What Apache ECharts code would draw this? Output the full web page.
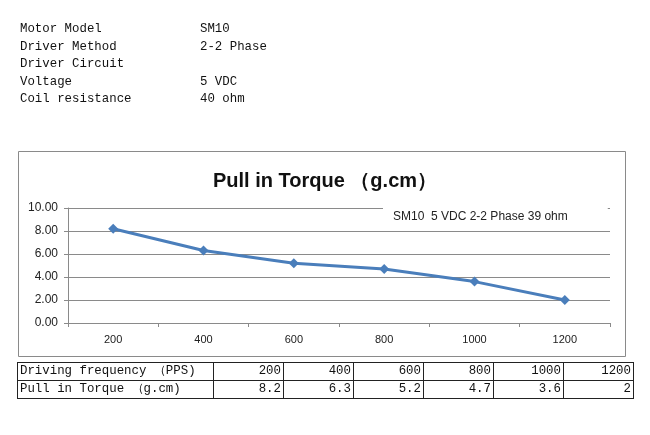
<!DOCTYPE html>
<html><head><meta charset="utf-8">
<script src="https://cdn.jsdelivr.net/npm/echarts@6/dist/echarts.min.js"></script>
<style>
html,body{margin:0;padding:0;background:#fff;width:650px;height:435px;overflow:hidden;}
#chart{position:absolute;left:0;top:0;width:650px;height:435px;}
#info{position:absolute;left:20px;top:21px;font-family:"Liberation Mono","DejaVu Sans Mono",monospace;font-size:12.4px;color:#111;line-height:17.5px;}
#info div{white-space:pre;height:17.5px;}
#info span{display:inline-block;width:180px;}
table{position:absolute;left:17px;top:362px;border-collapse:collapse;font-family:"Liberation Mono","DejaVu Sans Mono",monospace;font-size:12.4px;color:#111;table-layout:fixed;}
td{border:1px solid #222;padding:0 2px;height:17px;line-height:17px;text-align:right;width:65px;white-space:pre;overflow:hidden;}
td.h{text-align:left;width:191px;}
</style></head>
<body>
<div id="chart"></div>
<div id="info"></div>
<table id="tbl"></table>
<script>
const infoLabels = ["Motor Model","Driver Method","Driver Circuit","Voltage","Coil resistance"];
const infoValues = ["SM10","2-2 Phase","","5 VDC","40 ohm"];
const categories = ["200","400","600","800","1000","1200"];
const torque = [8.2, 6.3, 5.2, 4.7, 3.6, 2];
const tableValues = ["8.2","6.3","5.2","4.7","3.6","2"];
const seriesName = "SM10  5 VDC 2-2 Phase 39 ohm";
const titleText = "Pull in Torque \uFF08g.cm\uFF09";
const rowHeaders = ["Driving frequency \uFF08PPS)","Pull in Torque \uFF08g.cm)"];

const info = document.getElementById('info');
infoLabels.forEach((l,i)=>{
  const d=document.createElement('div');
  const s=document.createElement('span'); s.textContent=l;
  d.appendChild(s); d.appendChild(document.createTextNode(infoValues[i]));
  info.appendChild(d);
});
const tbl=document.getElementById('tbl');
[[rowHeaders[0]].concat(categories),[rowHeaders[1]].concat(tableValues)].forEach(r=>{
  const tr=document.createElement('tr');
  r.forEach((c,j)=>{const td=document.createElement('td'); if(j===0) td.className='h'; td.textContent=c; tr.appendChild(td);});
  tbl.appendChild(tr);
});

const chart = echarts.init(document.getElementById('chart'));
const axisColor = '#8a8a8a';
chart.setOption({
  animation:false,
  textStyle:{fontFamily:'Liberation Sans, Arial, sans-serif'},
  graphic:[{type:'rect',shape:{x:18.5,y:151.5,width:607,height:205},style:{fill:'none',stroke:'#8a8a8a',lineWidth:1},silent:true}],
  title:{text:titleText,left:'center',top:166,textStyle:{fontSize:20,fontWeight:'bold',color:'#111',fontFamily:'Liberation Sans, Arial, sans-serif'}},
  legend:{data:[seriesName],left:383,top:207,icon:'none',itemWidth:0,itemHeight:0,padding:[4,40,5,5],backgroundColor:'#fff',
    textStyle:{fontSize:12,color:'#222',fontFamily:'Liberation Sans, Arial, sans-serif'}},
  grid:{left:68,right:40,top:208,bottom:112,containLabel:false},
  xAxis:{type:'category',data:categories,boundaryGap:true,
    axisLine:{lineStyle:{color:axisColor}},
    axisTick:{show:true,alignWithLabel:false,length:4,lineStyle:{color:axisColor}},
    axisLabel:{color:'#222',fontSize:11,margin:11}},
  yAxis:{type:'value',min:0,max:10,interval:2,
    axisLine:{show:true,lineStyle:{color:axisColor}},
    axisTick:{show:true,length:4,lineStyle:{color:axisColor}},
    splitLine:{lineStyle:{color:axisColor}},
    axisLabel:{color:'#222',fontSize:12,margin:10,formatter:v=>v.toFixed(2)}},
  series:[{name:seriesName,type:'line',data:torque,symbol:'diamond',symbolSize:10,
    lineStyle:{color:'#4a7ebb',width:3},itemStyle:{color:'#4a7ebb'}}]
});
</script>
</body></html>
